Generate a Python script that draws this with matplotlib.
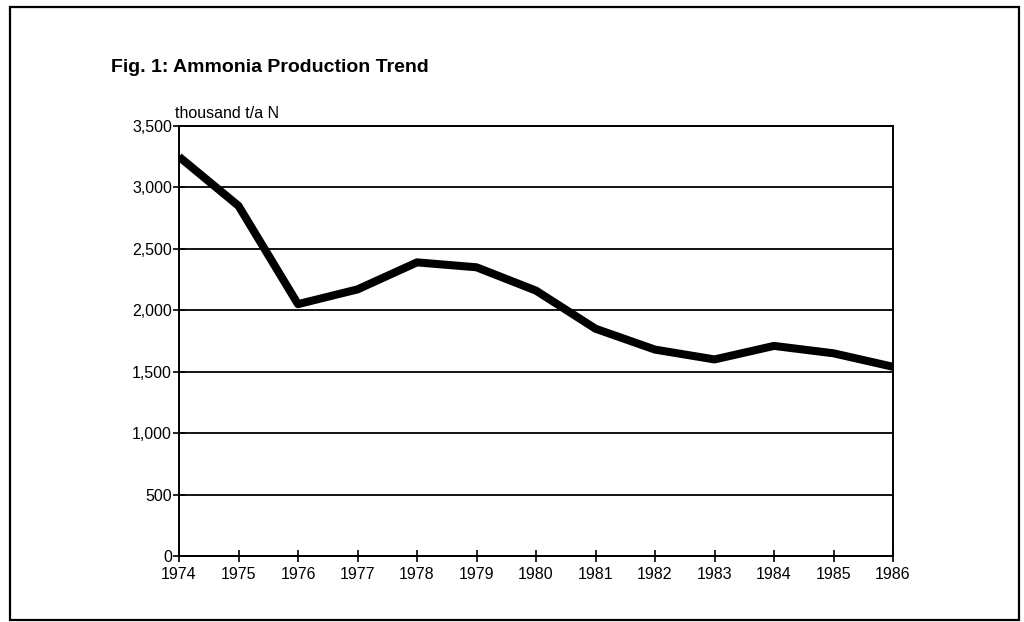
import matplotlib
matplotlib.use("Agg")
import matplotlib.pyplot as plt
from matplotlib.patches import Rectangle

years = [1974, 1975, 1976, 1977, 1978, 1979, 1980, 1981, 1982, 1983, 1984, 1985, 1986]
production = [3250, 2850, 2050, 2170, 2390, 2350, 2160, 1850, 1680, 1600, 1710, 1650, 1540]
y_ticks = [0, 500, 1000, 1500, 2000, 2500, 3000, 3500]
title = "Fig. 1: Ammonia Production Trend"
unit_label = "thousand t/a N"

plt.rcParams['font.family'] = ['Liberation Sans', 'DejaVu Sans']

fig = plt.figure(figsize=(10.24, 6.22), dpi=100)
W, H = 1024, 622

# outer frame
fig.patches.append(Rectangle((10 / W, 1 - 620 / H), (1019 - 10) / W, (620 - 7) / H,
                             transform=fig.transFigure, fill=False,
                             edgecolor='black', linewidth=1.6))

ax = fig.add_axes([179 / W, 1 - 556 / H, (893 - 179) / W, (556 - 126) / H])
ax.plot(years, production, color='black', linewidth=5.8, solid_joinstyle='round',
        solid_capstyle='butt', zorder=3)

ax.set_xlim(years[0], years[-1])
ax.set_ylim(y_ticks[0], y_ticks[-1])
ax.set_xticks(years)
ax.set_xticklabels([str(y) for y in years])
ax.set_yticks(y_ticks)
ax.set_yticklabels([f"{v:,}" for v in y_ticks])
ax.grid(axis='y', color='black', linewidth=1.3)
ax.tick_params(axis='both', direction='inout', length=8, width=1.2, labelsize=11.5)
ax.tick_params(axis='x', pad=4)
ax.tick_params(axis='y', pad=1)
for s in ax.spines.values():
    s.set_linewidth(1.4)

fig.text(111 / W, 1 - 67 / H, title, fontsize=14, fontweight='bold',
         ha='left', va='center')
fig.text(175 / W, 1 - 113 / H, unit_label, fontsize=11.5, ha='left', va='center')

fig.savefig("out.png", dpi=100, facecolor='white')
